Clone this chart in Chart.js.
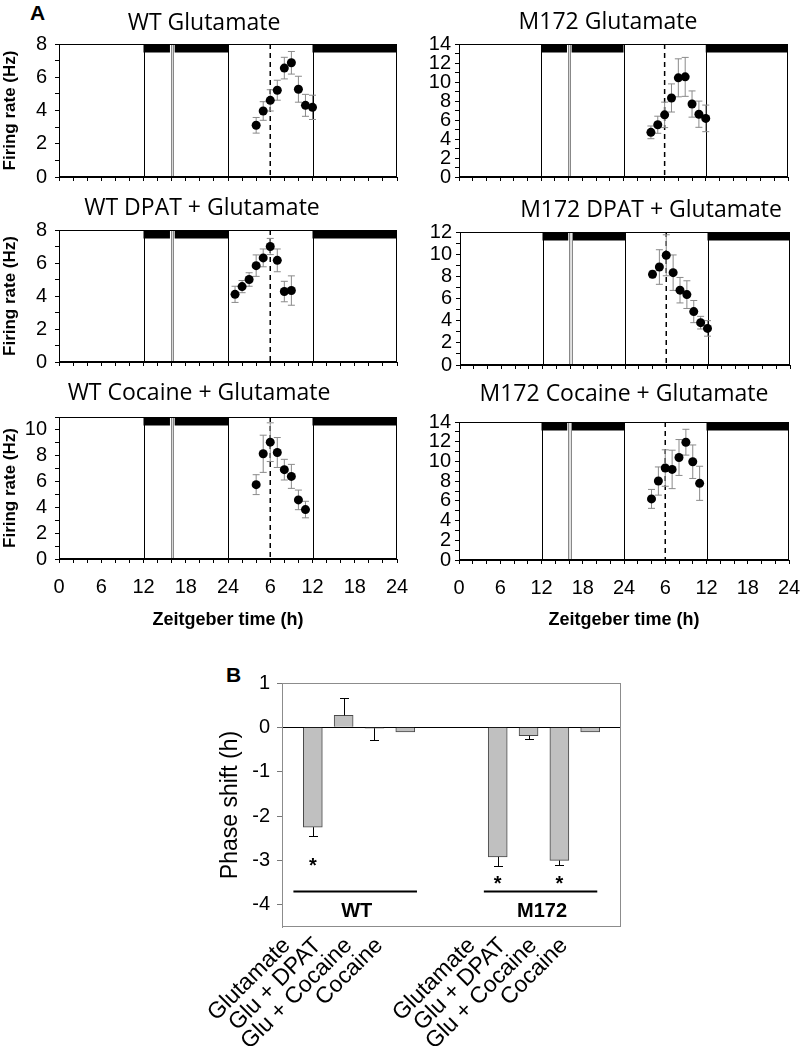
<!DOCTYPE html>
<html>
<head>
<meta charset="utf-8">
<script src="https://cdn.jsdelivr.net/npm/chart.js@4.4.1/dist/chart.umd.min.js"></script>
<style>
  body { margin: 0; background: #fff; }
  #fig { position: relative; width: 800px; height: 1046px; overflow: hidden; font-family: "Liberation Sans", Arial, sans-serif; }
  #fig canvas { position: absolute; }
  .letter { position: absolute; font-weight: bold; font-size: 21px; line-height: 21px; }
</style>
</head>
<body>
<div id="fig">
  <div class="letter" style="left:30px;top:2px">A</div>
  <div class="letter" style="left:226px;top:664px">B</div>
</div>
<script>
// ---- Panel A data: time on the double-plotted ZT axis (0-48 h), firing rate (Hz), SEM
const wtGluTime = [28, 29, 30, 31, 32, 33, 34, 35, 36];
const wtGluRate = [3.11, 3.97, 4.61, 5.22, 6.55, 6.87, 5.28, 4.31, 4.19];
const wtGluSem = [0.47, 0.56, 0.64, 0.6, 0.65, 0.68, 0.78, 0.66, 0.73];

const m172GluTime = [28, 29, 30, 31, 32, 33, 34, 35, 36];
const m172GluRate = [4.7, 5.5, 6.54, 8.32, 10.44, 10.54, 7.68, 6.61, 6.17];
const m172GluSem = [0.67, 0.9, 1.34, 1.48, 2.0, 2.05, 1.38, 1.38, 1.4];

const wtDpatTime = [25, 26, 27, 28, 29, 30, 31, 32, 33];
const wtDpatRate = [4.1, 4.57, 5.0, 5.84, 6.31, 7.0, 6.16, 4.27, 4.33];
const wtDpatSem = [0.49, 0.37, 0.41, 0.65, 0.54, 0.49, 0.69, 0.62, 0.89];

const m172DpatTime = [28, 29, 30, 31, 32, 33, 34, 35, 36];
const m172DpatRate = [8.18, 8.84, 9.9, 8.33, 6.75, 6.35, 4.82, 3.82, 3.3];
const m172DpatSem = [0.3, 1.56, 1.85, 1.6, 1.15, 1.25, 1.0, 0.57, 0.7];

const wtCocTime = [28, 29, 30, 31, 32, 33, 34, 35];
const wtCocRate = [5.76, 8.15, 9.05, 8.25, 6.92, 6.4, 4.58, 3.83];
const wtCocSem = [0.77, 1.44, 1.5, 1.16, 0.8, 0.93, 0.76, 0.64];

const m172CocTime = [28, 29, 30, 31, 32, 33, 34, 35];
const m172CocRate = [6.2, 8.01, 9.33, 9.19, 10.4, 11.95, 9.97, 7.78];
const m172CocSem = [0.96, 1.43, 1.85, 1.95, 1.82, 1.31, 1.7, 1.73];

// light/dark schedule (h on the 0-48 axis)
const darkBars = [[12, 15.8], [16.4, 24], [36, 48]];
const phaseLines = [12, 24, 36];
const recordBreak = [15.9, 16.25];
const glutamateTime = 30;

// ---- Panel B data
const bCategories = ["Glutamate", "Glu + DPAT", "Glu + Cocaine", "Cocaine"];
const bPositions = [1, 2, 3, 4, 7, 8, 9, 10];
const bLabels = bCategories.concat(bCategories);
const bShift = [-2.25, 0.27, -0.02, -0.1, -2.92, -0.19, -3.0, -0.1];
const bSem = [0.2, 0.4, 0.27, 0, 0.2, 0.08, 0.1, 0];
const bStars = [1, 7, 9];
const bStarLevel = [-3.02, -3.41, -3.41];
const bGroups = [
  { name: "WT", from: 0.37, to: 4.38 },
  { name: "M172", from: 6.55, to: 10.23 },
];

Chart.defaults.font.family = '"Liberation Sans", Arial, sans-serif';
Chart.defaults.color = '#000';
Chart.defaults.animation = false;

const fig = document.getElementById('fig');

function addCanvas(x, y, w, h) {
  const c = document.createElement('canvas');
  c.width = w; c.height = h;
  c.style.left = x + 'px'; c.style.top = y + 'px';
  fig.appendChild(c);
  return c;
}

function vline(ctx, px, top, bottom) {
  ctx.beginPath(); ctx.moveTo(px, top); ctx.lineTo(px, bottom); ctx.stroke();
}

//draws dark bars, phase lines, the record break and glutamate line
const lightCycle = {
  id: 'lightCycle',
  beforeDatasetsDraw(chart) {
    const { ctx, chartArea: a, scales: { x } } = chart;
    ctx.save();
    ctx.fillStyle = '#000';
    darkBars.forEach(([s, e]) => {
      const p0 = x.getPixelForValue(s), p1 = x.getPixelForValue(e);
      ctx.fillRect(p0, a.top, p1 - p0, 8.5);
    });
    const g0 = x.getPixelForValue(recordBreak[0]), g1 = x.getPixelForValue(recordBreak[1]);
    ctx.fillStyle = '#fff';
    ctx.fillRect(g0 - 1, a.top, g1 - g0 + 2, a.bottom - a.top);
    ctx.fillStyle = '#d8d8d8';
    ctx.fillRect(g0, a.top, g1 - g0, a.bottom - a.top);
    ctx.strokeStyle = '#888'; ctx.lineWidth = 1;
    vline(ctx, Math.round(g0) + 0.5, a.top, a.bottom);
    vline(ctx, Math.round(g1) + 0.5, a.top, a.bottom);
    ctx.strokeStyle = '#000';
    phaseLines.forEach(t => vline(ctx, Math.round(x.getPixelForValue(t)) + 0.5, a.top, a.bottom));
    ctx.setLineDash([5, 4]);
    ctx.lineWidth = 1.5;
    vline(ctx, x.getPixelForValue(glutamateTime), a.top, a.bottom);
    ctx.restore();
  }
};

// vertical SEM bars with caps
const semBars = {
  id: 'semBars',
  beforeDatasetsDraw(chart, args, opts) {
    const { ctx, scales: { x, y } } = chart;
    const ds = chart.data.datasets[0];
    ctx.save();
    ctx.strokeStyle = opts.color; ctx.lineWidth = 1;
    ds.data.forEach((pt, i) => {
      const px = x.getPixelForValue(pt.x);
      const yt = y.getPixelForValue(pt.y + ds.sem[i]), yb = y.getPixelForValue(pt.y - ds.sem[i]);
      ctx.beginPath();
      ctx.moveTo(px, yt); ctx.lineTo(px, yb);
      ctx.moveTo(px - 3.5, yt); ctx.lineTo(px + 3.5, yt);
      ctx.moveTo(px - 3.5, yb); ctx.lineTo(px + 3.5, yb);
      ctx.stroke();
    });
    ctx.restore();
  }
};

const frame = {
  id: 'frame',
  afterDraw(chart, args, opts) {
    const { ctx, chartArea: a } = chart;
    ctx.save();
    ctx.strokeStyle = opts.color; ctx.lineWidth = 1;
    ctx.strokeRect(a.left + 0.5, a.top + 0.5, a.right - a.left - 1, a.bottom - a.top - 1);
    ctx.restore();
  }
};

const panelTitle = {
  id: 'panelTitle',
  afterDraw(chart, args, opts) {
    const ctx = chart.ctx;
    ctx.save();
    ctx.font = '23px "Open Sans"';
    ctx.fillStyle = '#000';
    ctx.textAlign = 'center'; ctx.textBaseline = 'middle';
    ctx.fillText(opts.text, opts.x, opts.y);
    ctx.restore();
  }
};

const panels = [
  { area: [59, 44, 397, 187], yMax: 8, time: wtGluTime, rate: wtGluRate, sem: wtGluSem, title: 'WT Glutamate', tx: 204, ty: 23, left: true, bottom: false },
  { area: [459, 44, 788, 183], yMax: 14, time: m172GluTime, rate: m172GluRate, sem: m172GluSem, title: 'M172 Glutamate', tx: 608, ty: 22, left: false, bottom: false },
  { area: [59, 230, 397, 372], yMax: 8, time: wtDpatTime, rate: wtDpatRate, sem: wtDpatSem, title: 'WT DPAT + Glutamate', tx: 202, ty: 208, left: true, bottom: false },
  { area: [460, 232, 790, 371], yMax: 12, time: m172DpatTime, rate: m172DpatRate, sem: m172DpatSem, title: 'M172 DPAT + Glutamate', tx: 651, ty: 210, left: false, bottom: false },
  { area: [59, 417, 397, 559], yMax: 11, time: wtCocTime, rate: wtCocRate, sem: wtCocSem, title: 'WT Cocaine + Glutamate', tx: 199, ty: 393, left: true, bottom: true },
  { area: [459, 422, 789, 560], yMax: 14, time: m172CocTime, rate: m172CocRate, sem: m172CocSem, title: 'M172 Cocaine + Glutamate', tx: 624, ty: 394, left: false, bottom: true },
];

panels.forEach(p => {
  const [L, T, R, B] = p.area;
  const yw = 59, padTop = 42, padRight = 30, xh = p.bottom ? 75 : 10;
  const cx = L - yw, cy = T - padTop;
  const canvas = addCanvas(cx, cy, R - L + yw + padRight, B - T + padTop + xh);
  new Chart(canvas, {
    type: 'scatter',
    plugins: [lightCycle, semBars, frame, panelTitle],
    data: {
      datasets: [{
        data: p.time.map((t, i) => ({ x: t, y: p.rate[i] })),
        sem: p.sem,
        pointRadius: 4.5,
        pointBackgroundColor: '#000',
        pointBorderWidth: 0,
      }],
    },
    options: {
      responsive: false,
      layout: { padding: { top: padTop, right: padRight, left: 0, bottom: 0 } },
      plugins: {
        legend: { display: false },
        tooltip: { enabled: false },
        semBars: { color: '#8a8a8a' },
        frame: { color: '#000' },
        panelTitle: { text: p.title, x: p.tx - cx, y: p.ty - cy },
      },
      scales: {
        x: {
          type: 'linear', min: 0, max: 48,
          afterFit: s => { s.height = xh; },
          grid: { drawOnChartArea: false, tickLength: 4, color: '#000' },
          border: { color: '#000' },
          ticks: {
            stepSize: 2, autoSkip: false, maxRotation: 0, padding: 12,
            font: { size: 20 },
            callback: v => (p.bottom && v % 6 === 0) ? String(v === 0 ? 0 : (v - 1) % 24 + 1) : '',
          },
          title: {
            display: p.bottom, text: 'Zeitgeber time (h)',
            font: { size: 18, weight: 'bold' },
            padding: { top: 0, bottom: (B + xh) - 620 - 10.8 },
          },
        },
        y: {
          min: 0, max: p.yMax,
          afterFit: s => { s.width = yw; },
          grid: { drawOnChartArea: false, tickLength: 4, color: '#000' },
          border: { color: '#000' },
          ticks: {
            stepSize: 1, autoSkip: false, padding: p.left ? 8 : 4,
            font: { size: 20 },
            callback: v => v % 2 === 0 ? String(v) : '',
          },
          title: {
            display: p.left, text: 'Firing rate (Hz)',
            font: { size: 17, weight: 'bold' },
            padding: { top: 0, bottom: 0 },
          },
        },
      },
    },
  });
});

// ---- Panel B
const phaseDecor = {
  id: 'phaseDecor',
  afterDatasetsDraw(chart) {
    const { ctx, chartArea: a, scales: { x, y } } = chart;
    ctx.save();
    ctx.strokeStyle = '#000'; ctx.lineWidth = 1;
    // one-sided error bars, away from zero
    bPositions.forEach((pos, i) => {
      if (!bSem[i]) return;
      const v = bShift[i], e = v < 0 ? v - bSem[i] : v + bSem[i];
      const px = Math.round(x.getPixelForValue(pos)) + 0.5;
      const y0 = y.getPixelForValue(v), y1 = Math.round(y.getPixelForValue(e)) + 0.5;
      ctx.beginPath();
      ctx.moveTo(px, y0); ctx.lineTo(px, y1);
      ctx.moveTo(px - 4.5, y1); ctx.lineTo(px + 4.5, y1);
      ctx.stroke();
    });
    ctx.fillStyle = '#000';
    ctx.font = 'bold 20px "Liberation Sans"';
    ctx.textAlign = 'center'; ctx.textBaseline = 'alphabetic';
    bStars.forEach((pos, i) => ctx.fillText('*', x.getPixelForValue(pos), y.getPixelForValue(bStarLevel[i]) + 11));
    // genotype groups
    ctx.lineWidth = 2;
    bGroups.forEach(g => {
      const ly = y.getPixelForValue(-3.7);
      ctx.beginPath();
      ctx.moveTo(x.getPixelForValue(g.from), ly); ctx.lineTo(x.getPixelForValue(g.to), ly);
      ctx.stroke();
      ctx.textBaseline = 'middle';
      ctx.fillText(g.name, x.getPixelForValue((g.from + g.to) / 2 + 0.05), y.getPixelForValue(-4.14));
    });
    // rotated treatment labels
    ctx.font = '23px "Liberation Sans"';
    ctx.textAlign = 'right'; ctx.textBaseline = 'middle';
    bPositions.forEach((pos, i) => {
      ctx.save();
      ctx.translate(x.getPixelForValue(pos) - 26, a.bottom + 15);
      ctx.rotate(-Math.PI / 4);
      ctx.fillText(bLabels[i], 0, 0);
      ctx.restore();
    });
    ctx.restore();
  }
};

(function () {
  const L = 282, T = 683, R = 621, B = 927;
  const cx = 180, cy = 660, cw = 460, ch = 386;
  const canvas = addCanvas(cx, cy, cw, ch);
  new Chart(canvas, {
    type: 'bar',
    plugins: [phaseDecor, frame],
    data: {
      datasets: [{
        data: bPositions.map((pos, i) => ({ x: pos, y: bShift[i] })),
        backgroundColor: '#c0c0c0',
        borderColor: '#4a4a4a',
        borderWidth: 1,
        barThickness: 19,
      }],
    },
    options: {
      responsive: false,
      layout: { padding: { top: T - cy, right: cx + cw - R, left: 0, bottom: 0 } },
      plugins: {
        legend: { display: false },
        tooltip: { enabled: false },
        frame: { color: '#8c8c8c' },
      },
      scales: {
        x: {
          type: 'linear', min: 0, max: 11, offset: false,
          afterFit: s => { s.height = cy + ch - B; },
          grid: { display: false },
          border: { display: false },
          ticks: { display: false },
        },
        y: {
          min: -4.5, max: 1,
          afterFit: s => { s.width = L - cx; },
          grid: {
            color: c => c.tick && c.tick.value === 0 ? '#000' : 'rgba(0,0,0,0)',
            tickColor: '#777', tickLength: 5,
          },
          border: { color: '#8c8c8c' },
          ticks: { stepSize: 1, includeBounds: false, padding: 7, font: { size: 20 } },
          title: { display: true, text: 'Phase shift (h)', font: { size: 23 }, padding: { top: 37, bottom: 0 } },
        },
      },
    },
  });
})();
</script>
</body>
</html>
